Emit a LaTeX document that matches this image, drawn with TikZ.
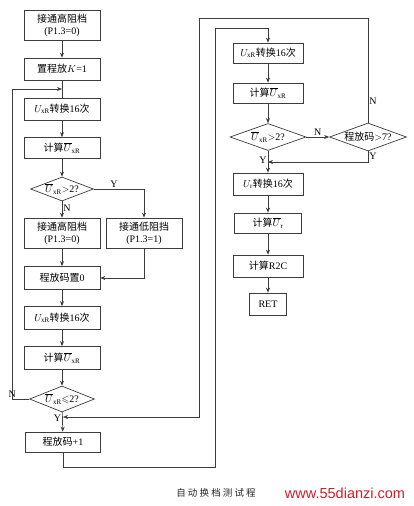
\documentclass[tikz,border=0pt]{standalone}
\usepackage{amssymb}
\usepackage{fontspec}
\setmainfont{Liberation Serif}
\newfontfamily\cjk{Noto Sans CJK SC}
\newfontfamily\webfont{Liberation Sans}
\usetikzlibrary{arrows.meta,shapes.geometric,positioning}
\definecolor{linegray}{RGB}{60,60,60}
\definecolor{markred}{RGB}{205,30,40}
\newcommand{\Uxr}{$U_{\mathrm{xR}}$}
\newcommand{\Uxrbar}{$\overline{U}_{\mathrm{xR}}$}

\begin{document}
\begin{tikzpicture}[x=1pt,y=-1pt,>={Stealth[length=5pt,width=4pt]},
  line width=0.7pt,draw=linegray,
  box/.style={draw,rectangle,minimum width=76pt,minimum height=22pt,inner sep=1pt,
    align=center,font=\fontsize{10}{12}\selectfont},
  dec/.style={draw,diamond,aspect=2.6,inner sep=0pt,font=\fontsize{10}{12}\selectfont},
  lab/.style={font=\fontsize{10}{12}\selectfont,inner sep=1pt}]
  \useasboundingbox (0,0) rectangle (414,506);

  % left column
  \node[box,minimum height=30pt] (h1) at (62,25) {{\cjk 接通高阻档}\\(P1.3=0)};
  \node[box] (k1) at (62,69) {{\cjk 置程放}$K$=1};
  \node[box] (c1) at (62,109) {\Uxr{\cjk 转换}16{\cjk 次}};
  \node[box,minimum height=21pt] (a1) at (62,148) {{\cjk 计算}\Uxrbar};
  \node[dec,minimum width=63pt,minimum height=24pt] (d1) at (62,189) {\Uxrbar$>$2?};
  \node[box,minimum height=30pt] (h2) at (62,233) {{\cjk 接通高阻档}\\(P1.3=0)};
  \node[box,minimum height=30pt] (l1) at (144,233) {{\cjk 接通低阻挡}\\(P1.3=1)};
  \node[box,minimum height=23pt] (z1) at (62,278) {{\cjk 程放码置}0};
  \node[box,minimum height=23pt] (c2) at (62,318) {\Uxr{\cjk 转换}16{\cjk 次}};
  \node[box,minimum height=23pt] (a2) at (62,358) {{\cjk 计算}\Uxrbar};
  \node[dec,minimum width=65pt,minimum height=26pt] (d2) at (62,399) {\Uxrbar$\leqslant$2?};
  \node[box,minimum width=75pt,minimum height=20pt] (p1) at (63,442) {{\cjk 程放码}+1};

  % right column
  \node[box,minimum width=70pt,minimum height=20pt] (c3) at (268,53) {\Uxr{\cjk 转换}16{\cjk 次}};
  \node[box,minimum width=70pt,minimum height=20pt] (a3) at (268,93) {{\cjk 计算}\Uxrbar};
  \node[dec,minimum width=76pt,minimum height=27pt] (d3) at (268,137) {\Uxrbar$>$2?};
  \node[dec,minimum width=77pt,minimum height=28pt] (d4) at (368,137) {{\cjk 程放码}$>$7?};
  \node[box,minimum width=70pt,minimum height=22pt] (c4) at (268,184) {$U_{\mathrm{r}}${\cjk 转换}16{\cjk 次}};
  \node[box,minimum width=67pt,minimum height=20pt] (a4) at (268,223) {{\cjk 计算}$\overline{U}_{\mathrm{r}}$};
  \node[box,minimum width=70pt,minimum height=22pt] (r1) at (268,266) {{\cjk 计算}R2C};
  \node[box,minimum width=37pt,minimum height=22pt] (ret) at (268,304) {RET};

  % junction points
  \coordinate (j1) at (62,89);
  \coordinate (j2) at (63,417);
  \coordinate (j3) at (268,162);

  % caption
  \node[font=\cjk\fontsize{9.5}{11}\selectfont,color=black!85] (cap) at (216,493) {自 动 换 档 测 试 程};
  \node[font=\webfont\fontsize{14.5}{16}\selectfont,color=markred] (web) at (345,493) {www.55dianzi.com};

  \path[->]
    (h1) edge (k1)
    (c1) edge (a1)
    (a1) edge (d1)
    (d1) edge node[lab,right,pos=0.45] {N} (h2)
    (h2) edge (z1)
    (z1) edge (c2)
    (c2) edge (a2)
    (a2) edge (d2)
    (d2) edge node[lab,left,pos=0.3] {Y} (p1)
    (c3) edge (a3)
    (a3) edge (d3)
    (d3) edge node[lab,left,pos=0.45] {Y} (c4)
    (d3) edge node[lab,above] {N} (d4)
    (c4) edge (a4)
    (a4) edge (r1)
    (r1) edge (ret);

  \draw (k1) -- (c1);
  \draw[->] (d1.east) -| node[lab,above,pos=0.2] {Y} (l1.north);
  \draw[->] (l1.south) |- (z1.east);
  \draw[->] (d2.west) -- node[lab,above left,pos=0.7] {N} (12,399) |- (j1);
  \draw[->] (p1.south) -- (63,467) -| (215,28) -| (c3.north);
  \draw[->] (d4.north) -- node[lab,right,pos=0.2] {N} (368,18) -| (199,417) -- (j2);
  \draw[->] (d4.south) -- node[lab,right,pos=0.5] {Y} (368,162) -- (j3);
\end{tikzpicture}
\end{document}
